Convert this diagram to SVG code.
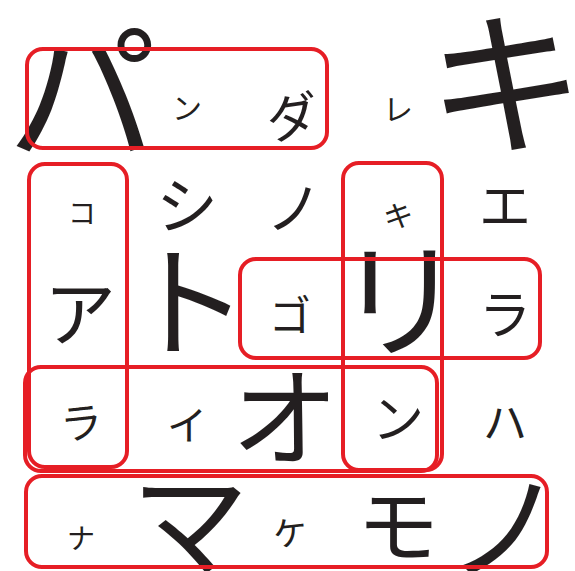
<svg xmlns="http://www.w3.org/2000/svg" width="575" height="571" viewBox="0 0 575 571">
<style>
.c{font-family:"Noto Sans CJK JP","Noto Sans CJK SC",sans-serif;fill:#231f20;text-anchor:middle;dominant-baseline:central}
.b{fill:none;stroke:#e61e25;stroke-width:4}
</style>
<rect width="575" height="571" fill="#ffffff"/>
<g id="letters">
<g id="r1">
<text class="c" x="82" y="84" font-size="150">パ</text>
<text class="c" x="187" y="106" font-size="30">ン</text>
<text class="c" x="292" y="114" font-size="52" transform="rotate(-8 292 114)">ダ</text>
<text class="c" x="398" y="107" font-size="30">レ</text>
<text class="c" x="506" y="74" font-size="158">キ</text>
</g>
<g id="r2">
<text class="c" x="82" y="212" font-size="28">コ</text>
<text class="c" x="187" y="202" font-size="62">シ</text>
<text class="c" x="294" y="204" font-size="56">ノ</text>
<text class="c" x="398" y="214" font-size="30" transform="rotate(-10 398 214)">キ</text>
<text class="c" x="505" y="202" font-size="52">エ</text>
</g>
<g id="r3">
<text class="c" x="80" y="308" font-size="72">ア</text>
<text class="c" x="188" y="293" font-size="122">ト</text>
<text class="c" x="290" y="312" font-size="42">ゴ</text>
<text class="c" x="400" y="292" font-size="128">リ</text>
<text class="c" x="505" y="311" font-size="52">ラ</text>
</g>
<g id="r4">
<text class="c" x="81" y="420" font-size="42" transform="rotate(-6 81 420)">ラ</text>
<text class="c" x="187" y="423" font-size="40">イ</text>
<text class="c" x="285" y="411" font-size="108">オ</text>
<text class="c" x="398" y="415" font-size="52">ン</text>
<text class="c" x="505" y="420" font-size="44">ハ</text>
</g>
<g id="r5">
<text class="c" x="81" y="537" font-size="28">ナ</text>
<text class="c" x="190" y="516" font-size="118">マ</text>
<text class="c" x="290" y="531" font-size="34" transform="rotate(-6 290 531)">ケ</text>
<text class="c" x="398" y="520" font-size="82">モ</text>
<text class="c" x="505" y="520" font-size="118">ノ</text>
</g>
</g>
<g id="boxes">
<rect id="panda" class="b" x="27" y="49" width="300" height="99" rx="16"/>
<rect id="koala" class="b" x="29" y="164" width="98" height="303" rx="16"/>
<rect id="kirin" class="b" x="343" y="163" width="99" height="307" rx="16"/>
<rect id="gorira" class="b" x="240" y="259" width="300" height="99" rx="16"/>
<rect id="raion" class="b" x="25" y="367" width="412" height="104" rx="16"/>
<rect id="namakemono" class="b" x="26" y="476" width="521" height="91" rx="16"/>
</g>
</svg>
